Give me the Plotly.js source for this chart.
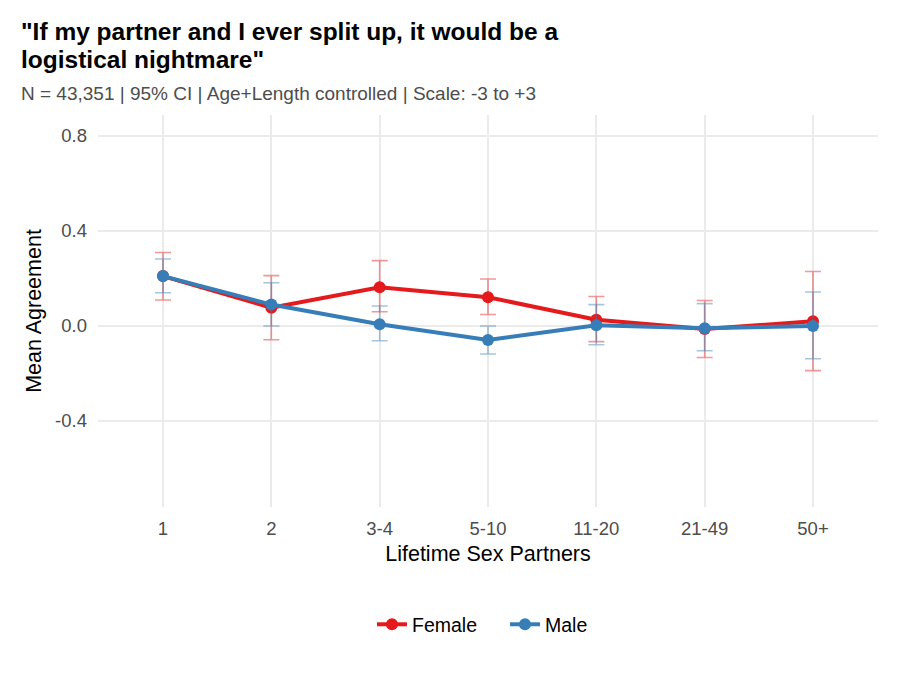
<!DOCTYPE html>
<html>
<head>
<meta charset="utf-8">
<script src="https://cdn.plot.ly/plotly-3.0.1.min.js"></script>
<style>body{margin:0;background:#fff;} #chart{width:900px;height:675px;}</style>
</head>
<body>
<div id="chart"></div>
<script>
const categories = ["1", "2", "3-4", "5-10", "11-20", "21-49", "50+"];
const femaleMean = [0.21, 0.077, 0.163, 0.121, 0.026, -0.013, 0.02];
const femaleUpper = [0.309, 0.212, 0.275, 0.198, 0.124, 0.107, 0.229];
const femaleLower = [0.109, -0.058, 0.06, 0.048, -0.066, -0.133, -0.188];
const maleMean = [0.21, 0.09, 0.007, -0.059, 0.003, -0.01, 0.0];
const maleUpper = [0.282, 0.182, 0.084, 0.0, 0.09, 0.094, 0.143];
const maleLower = [0.14, 0.0, -0.062, -0.118, -0.079, -0.104, -0.138];
const titleLines = ['"If my partner and I ever split up, it would be a', 'logistical nightmare"'];
const subtitle = 'N = 43,351 | 95% CI | Age+Length controlled | Scale: -3 to +3';

function trace(name, mean, up, lo, color, ecolor) {
  return {
    type: 'scatter', mode: 'lines+markers', name: name,
    x: categories, y: mean,
    line: {color: color, width: 4},
    marker: {color: color, size: 12},
    error_y: {
      type: 'data', symmetric: false,
      array: up.map((u, i) => u - mean[i]),
      arrayminus: lo.map((l, i) => mean[i] - l),
      color: ecolor, thickness: 1.6, width: 8
    }
  };
}

const data = [
  trace('Female', femaleMean, femaleUpper, femaleLower, '#E41A1C', 'rgba(228,26,28,0.45)'),
  trace('Male', maleMean, maleUpper, maleLower, '#377EB8', 'rgba(55,126,184,0.45)')
];

const py = v => 1 + (115 - v) / 392;
const px = -79 / 780;

const layout = {
  width: 900, height: 675,
  paper_bgcolor: '#fff', plot_bgcolor: '#fff',
  margin: {l: 98, r: 22, t: 115, b: 168},
  font: {family: 'Liberation Sans, Arial, sans-serif'},
  showlegend: true,
  legend: {orientation: 'h', x: (372 - 98) / 780, xanchor: 'left', y: -0.30, yanchor: 'middle',
           font: {size: 19.5, color: '#000'}, itemwidth: 30, entrywidth: 88, tracegroupgap: 0},
  xaxis: {
    type: 'category', range: [-0.6, 6.6],
    showgrid: true, gridcolor: '#EBEBEB', gridwidth: 1.5, zeroline: false,
    showline: false, ticks: '', ticklabelstandoff: 8,
    tickfont: {size: 18.5, color: '#4D4D4D'},
    title: {text: 'Lifetime Sex Partners', font: {size: 21.5, color: '#000'}, standoff: 8}
  },
  yaxis: {
    range: [-0.762, 0.888],
    tickvals: [-0.4, 0, 0.4, 0.8], ticktext: ['-0.4', '0.0', '0.4', '0.8'],
    showgrid: true, gridcolor: '#EBEBEB', gridwidth: 1.5, zeroline: false,
    showline: false, ticks: '', ticklabelstandoff: 10,
    tickfont: {size: 18.5, color: '#4D4D4D'},
    title: {text: 'Mean Agreement', font: {size: 21.5, color: '#000'}, standoff: 7}
  },
  annotations: [
    {text: '<b>' + titleLines[0] + '</b>',
     xref: 'paper', yref: 'paper', x: px, y: py(32), xanchor: 'left', yanchor: 'middle',
     align: 'left', showarrow: false, font: {size: 24.5, color: '#000'}},
    {text: '<b>' + titleLines[1] + '</b>',
     xref: 'paper', yref: 'paper', x: px, y: py(59), xanchor: 'left', yanchor: 'middle',
     align: 'left', showarrow: false, font: {size: 24.5, color: '#000'}},
    {text: subtitle,
     xref: 'paper', yref: 'paper', x: px, y: py(93), xanchor: 'left', yanchor: 'middle',
     align: 'left', showarrow: false, font: {size: 19, color: '#4D4D4D'}}
  ]
};

Plotly.newPlot('chart', data, layout, {displayModeBar: false});
</script>
</body>
</html>
